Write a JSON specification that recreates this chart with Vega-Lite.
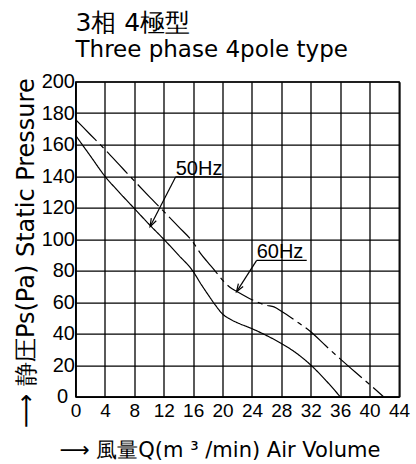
{
  "$schema": "https://vega.github.io/schema/vega-lite/v6.json",
  "width": 323.5,
  "height": 315,
  "autosize": {"type": "none"},
  "padding": {"left": 75.5, "top": 81.7, "right": 17, "bottom": 67.3},
  "background": "white",
  "title": {
    "text": "3相 4極型",
    "subtitle": "Three phase 4pole type",
    "anchor": "start",
    "frame": "group",
    "font": "DejaVu Sans",
    "fontSize": 25,
    "fontWeight": "normal",
    "color": "black",
    "subtitleFont": "DejaVu Sans",
    "subtitleFontSize": 23,
    "subtitleColor": "black",
    "subtitlePadding": 3,
    "offset": 10
  },
  "config": {
    "view": {"stroke": "black", "strokeWidth": 1.3},
    "axis": {
      "grid": true,
      "gridColor": "black",
      "gridOpacity": 1,
      "gridWidth": 1.3,
      "domainColor": "black",
      "domainWidth": 1.5,
      "ticks": false,
      "labelColor": "black",
      "labelFont": "Liberation Sans",
      "labelOverlap": false,
      "titleColor": "black",
      "titleFont": "DejaVu Sans",
      "titleFontWeight": "normal"
    }
  },
  "datasets": {
    "curves": [
      {"series": "50Hz", "q": 0, "ps": 166},
      {"series": "50Hz", "q": 2, "ps": 153},
      {"series": "50Hz", "q": 4, "ps": 140},
      {"series": "50Hz", "q": 6, "ps": 129.5},
      {"series": "50Hz", "q": 8, "ps": 119.5},
      {"series": "50Hz", "q": 10, "ps": 109.5},
      {"series": "50Hz", "q": 12, "ps": 100},
      {"series": "50Hz", "q": 14, "ps": 90},
      {"series": "50Hz", "q": 16, "ps": 79.5},
      {"series": "50Hz", "q": 17, "ps": 72},
      {"series": "50Hz", "q": 18, "ps": 65},
      {"series": "50Hz", "q": 19, "ps": 58.3},
      {"series": "50Hz", "q": 20, "ps": 52.5},
      {"series": "50Hz", "q": 21, "ps": 49.3},
      {"series": "50Hz", "q": 22, "ps": 47},
      {"series": "50Hz", "q": 24, "ps": 43.2},
      {"series": "50Hz", "q": 26, "ps": 38.8},
      {"series": "50Hz", "q": 28, "ps": 33.8},
      {"series": "50Hz", "q": 30, "ps": 27.8},
      {"series": "50Hz", "q": 32, "ps": 20.1},
      {"series": "50Hz", "q": 34, "ps": 10.6},
      {"series": "50Hz", "q": 36, "ps": 0},
      {"series": "60Hz", "q": 0, "ps": 176},
      {"series": "60Hz", "q": 2, "ps": 166.5},
      {"series": "60Hz", "q": 4, "ps": 157},
      {"series": "60Hz", "q": 6, "ps": 147},
      {"series": "60Hz", "q": 8, "ps": 137},
      {"series": "60Hz", "q": 10, "ps": 127.2},
      {"series": "60Hz", "q": 12, "ps": 117.7},
      {"series": "60Hz", "q": 14, "ps": 108},
      {"series": "60Hz", "q": 16, "ps": 98},
      {"series": "60Hz", "q": 17, "ps": 91},
      {"series": "60Hz", "q": 18, "ps": 85.3},
      {"series": "60Hz", "q": 19, "ps": 79.8},
      {"series": "60Hz", "q": 20, "ps": 74},
      {"series": "60Hz", "q": 21, "ps": 69.5},
      {"series": "60Hz", "q": 22, "ps": 66.7},
      {"series": "60Hz", "q": 24, "ps": 61.6},
      {"series": "60Hz", "q": 26, "ps": 58},
      {"series": "60Hz", "q": 27, "ps": 57},
      {"series": "60Hz", "q": 28, "ps": 54.3},
      {"series": "60Hz", "q": 30, "ps": 48},
      {"series": "60Hz", "q": 32, "ps": 41.2},
      {"series": "60Hz", "q": 34, "ps": 32.5},
      {"series": "60Hz", "q": 36, "ps": 24},
      {"series": "60Hz", "q": 38, "ps": 15.8},
      {"series": "60Hz", "q": 40, "ps": 7.8},
      {"series": "60Hz", "q": 41.9, "ps": 0}
    ],
    "notes": [
      {"label": "50Hz", "lx": 13.63, "lx2": 20.05, "ly": 139.6, "tx": 10.15, "ty": 108},
      {"label": "60Hz", "lx": 24.64, "lx2": 31.45, "ly": 86.6, "tx": 21.9, "ty": 66.6}
    ]
  },
  "layer": [
    {
      "data": {"name": "curves"},
      "mark": {"type": "line", "color": "black", "strokeWidth": 1.2, "interpolate": "monotone"},
      "encoding": {
        "x": {
          "field": "q", "type": "quantitative",
          "scale": {"domain": [0, 44], "nice": false, "zero": false},
          "axis": {
            "values": [0, 4, 8, 12, 16, 20, 24, 28, 32, 36, 40, 44],
            "tickCount": 12,
            "labelFontSize": 19,
            "labelPadding": 5,
            "labelFlush": false,
            "title": "⟶ 風量Q(m ³ /min) Air Volume",
            "titleFontSize": 21,
            "titleX": 144,
            "titleY": 60,
            "titleAlign": "center",
            "titleBaseline": "alphabetic"
          }
        },
        "y": {
          "field": "ps", "type": "quantitative",
          "scale": {"domain": [0, 200], "nice": false},
          "axis": {
            "values": [0, 20, 40, 60, 80, 100, 120, 140, 160, 180, 200],
            "tickCount": 11,
            "labelFontSize": 20,
            "labelPadding": {"condition": {"test": "datum.value === 0", "value": 8}, "value": 1},
            "labelFlush": false,
            "title": "⟶  静圧Ps(Pa) Static Pressure",
            "titleFontSize": 24,
            "titleAngle": -90,
            "titleX": -42.5,
            "titleY": 171,
            "titleAlign": "center",
            "titleBaseline": "alphabetic"
          }
        },
        "detail": {"field": "series", "type": "nominal"},
        "strokeDash": {
          "field": "series", "type": "nominal",
          "scale": {"domain": ["50Hz", "60Hz"], "range": [[1, 0], [30, 5, 5, 5]]},
          "legend": null
        }
      }
    },
    {
      "data": {"name": "notes"},
      "mark": {"type": "rule", "color": "black", "strokeWidth": 1.2},
      "encoding": {
        "x": {"field": "lx", "type": "quantitative"},
        "y": {"field": "ly", "type": "quantitative"},
        "x2": {"field": "tx"},
        "y2": {"field": "ty"}
      }
    },
    {
      "data": {"name": "notes"},
      "mark": {"type": "rule", "color": "black", "strokeWidth": 1.2},
      "encoding": {
        "x": {"field": "lx", "type": "quantitative"},
        "x2": {"field": "lx2"},
        "y": {"field": "ly", "type": "quantitative"}
      }
    },
    {
      "data": {"name": "notes"},
      "mark": {"type": "text", "color": "black", "font": "Liberation Sans", "fontSize": 20, "align": "left", "baseline": "alphabetic", "dx": 0, "dy": -2},
      "encoding": {
        "x": {"field": "lx", "type": "quantitative"},
        "y": {"field": "ly", "type": "quantitative"},
        "text": {"field": "label"}
      }
    },
    {
      "data": {"name": "notes"},
      "transform": [{"filter": "datum.label === '50Hz'"}],
      "mark": {"type": "point", "shape": "M-0.35,-1L0,0L0.35,-1", "filled": false, "color": "black", "strokeWidth": 1.2, "size": 256, "angle": 27, "opacity": 1},
      "encoding": {
        "x": {"field": "tx", "type": "quantitative"},
        "y": {"field": "ty", "type": "quantitative"}
      }
    },
    {
      "data": {"name": "notes"},
      "transform": [{"filter": "datum.label === '60Hz'"}],
      "mark": {"type": "point", "shape": "M-0.35,-1L0,0L0.35,-1", "filled": false, "color": "black", "strokeWidth": 1.2, "size": 256, "angle": 32, "opacity": 1},
      "encoding": {
        "x": {"field": "tx", "type": "quantitative"},
        "y": {"field": "ty", "type": "quantitative"}
      }
    }
  ]
}
